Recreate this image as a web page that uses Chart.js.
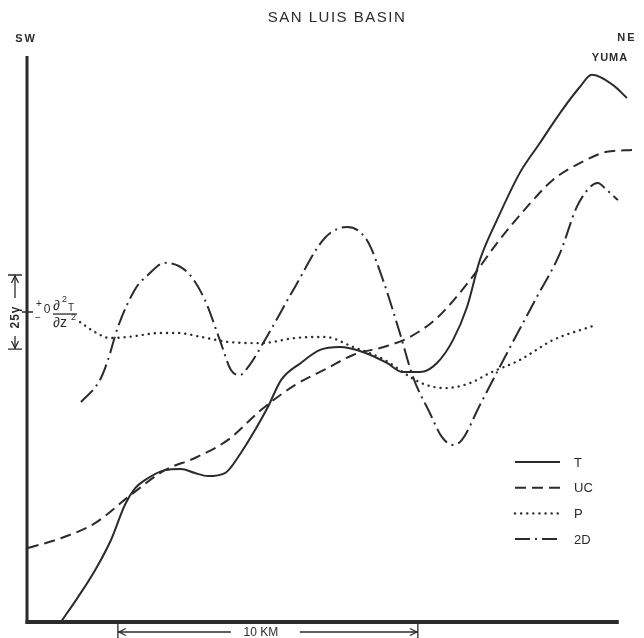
<!DOCTYPE html>
<html>
<head>
<meta charset="utf-8">
<script src="https://cdn.jsdelivr.net/npm/chart.js@4/dist/chart.umd.min.js"></script>
<style>
  html, body { margin:0; padding:0; background:#fff; }
  #c { display:block; }
</style>
</head>
<body>
<canvas id="c" width="644" height="638"></canvas>
<script>
// distance along profile (km from SW end) and anomaly (gammas, 0 = reference of the 2D curve)
const tKm  = [1.13,1.70,2.27,2.80,3.27,3.60,3.93,4.60,5.13,5.60,6.03,6.60,7.13,7.60,8.03,8.47,9.13,9.77,10.43,11.20,12.00,12.53,13.10,13.67,14.20,14.67,15.10,15.67,16.43,17.10,17.77,18.43,18.83,19.53,20.00];
const tVal = [-104.7,-96.3,-87.2,-77.0,-65.0,-59.6,-56.8,-53.4,-53.0,-54.4,-55.4,-54.4,-47.6,-39.9,-32.1,-23.0,-17.2,-12.8,-11.8,-13.5,-17.2,-20.3,-20.3,-17.2,-9.5,1.7,17.6,31.1,47.0,57.1,67.2,76.0,80.1,76.7,72.3];

const ucKm  = [0.03,1.13,2.27,3.37,4.60,5.60,6.70,7.80,8.93,10.03,10.87,12.00,12.77,13.67,14.77,15.67,16.67,17.53,18.43,19.33,20.17];
const ucVal = [-79.7,-76.4,-71.3,-62.5,-53.4,-49.3,-43.2,-33.1,-24.7,-18.9,-14.5,-11.5,-8.4,-2.0,10.8,23.3,35.5,44.6,50.3,54.1,54.7];

const pKm  = [1.77,2.27,2.77,3.37,4.47,5.03,5.80,6.70,7.80,8.93,9.93,10.87,11.93,12.53,12.83,13.33,13.93,14.77,15.43,16.43,17.53,18.87];
const pVal = [-3.4,-6.8,-8.8,-8.4,-7.1,-7.1,-8.4,-10.1,-10.5,-8.8,-8.4,-11.8,-16.2,-20.3,-22.3,-24.7,-25.7,-24.0,-20.6,-16.2,-9.5,-4.7];

const ddKm  = [1.80,2.43,2.70,3.03,3.63,4.03,4.60,5.37,5.93,6.43,6.80,7.10,7.37,7.93,8.93,9.93,10.67,11.33,11.87,12.43,12.87,13.43,13.83,14.20,14.50,15.10,16.00,17.00,17.77,18.33,18.77,19.03,19.33,19.70];
const ddVal = [-30.4,-23.0,-16.2,-5.1,8.1,12.5,16.6,13.2,4.1,-9.5,-19.6,-21.3,-18.6,-9.5,8.4,25.0,28.7,24.3,10.8,-7.1,-22.0,-34.1,-42.2,-44.9,-43.2,-31.4,-13.9,5.1,19.9,35.5,42.2,43.6,41.2,37.8];

const legendLabels = ['T', 'UC', 'P', '2D'];

const X_MIN = 0, X_MAX = 20.27, AXIS_END = 19.73;
const Y_MIN = -104.7, Y_MAX = 88.5;
const INK = '#2b2b2b';
const FONT = '"Liberation Sans", "DejaVu Sans", sans-serif';

const pts = (xs, ys) => xs.map((x, i) => ({ x, y: ys[i] }));

const styles = [
  { dash: [], width: 2, cap: 'butt' },
  { dash: [11, 6], width: 2, cap: 'butt' },
  { dash: [0.1, 6], width: 2.4, cap: 'round' },
  { dash: [17, 5, 2, 5], width: 2, cap: 'butt' }
];

function arrowHead(ctx, x, y, dir) {
  // tip at x,y
  ctx.beginPath();
  if (dir === 'l') { ctx.moveTo(x + 7, y - 3.5); ctx.lineTo(x, y); ctx.lineTo(x + 7, y + 3.5); }
  if (dir === 'r') { ctx.moveTo(x - 7, y - 3.5); ctx.lineTo(x, y); ctx.lineTo(x - 7, y + 3.5); }
  if (dir === 'u') { ctx.moveTo(x - 3.5, y + 7); ctx.lineTo(x, y); ctx.lineTo(x + 3.5, y + 7); }
  if (dir === 'd') { ctx.moveTo(x - 3.5, y - 7); ctx.lineTo(x, y); ctx.lineTo(x + 3.5, y - 7); }
  ctx.stroke();
}

const decor = {
  id: 'decor',
  beforeDatasetsDraw(chart) {
    const { ctx, scales: { x, y } } = chart;
    ctx.save();
    ctx.strokeStyle = INK;
    ctx.lineCap = 'butt';
    ctx.lineWidth = 3;
    ctx.beginPath();
    ctx.moveTo(x.getPixelForValue(0), y.getPixelForValue(Y_MAX) + 6);
    ctx.lineTo(x.getPixelForValue(0), y.getPixelForValue(Y_MIN) + 2);
    ctx.stroke();
    ctx.lineWidth = 4;
    ctx.beginPath();
    ctx.moveTo(x.getPixelForValue(0) - 1.5, y.getPixelForValue(Y_MIN));
    ctx.lineTo(x.getPixelForValue(AXIS_END), y.getPixelForValue(Y_MIN));
    ctx.stroke();
    ctx.restore();
  },
  afterDraw(chart) {
    const { ctx, scales: { x, y } } = chart;
    ctx.save();
    ctx.fillStyle = INK;
    ctx.strokeStyle = INK;
    ctx.textAlign = 'center';
    ctx.textBaseline = 'middle';

    ctx.font = '15px ' + FONT;
    ctx.letterSpacing = '1.5px';
    ctx.fillText('SAN LUIS BASIN', 337, 18);
    ctx.font = 'bold 11px ' + FONT;
    ctx.letterSpacing = '2px';
    ctx.fillText('SW', 26, 39);
    ctx.fillText('NE', 627, 38);
    ctx.letterSpacing = '1px';
    ctx.fillText('YUMA', 610, 58);
    ctx.letterSpacing = '0px';

    // 10 km scale bar
    const x0 = x.getPixelForValue(3.03), x1 = x.getPixelForValue(13.03);
    const yb = y.getPixelForValue(Y_MIN);
    ctx.lineWidth = 1.3;
    ctx.beginPath();
    ctx.moveTo(x0, yb); ctx.lineTo(x0, yb + 16);
    ctx.moveTo(x1, yb); ctx.lineTo(x1, yb + 16);
    ctx.moveTo(x0, yb + 10); ctx.lineTo(x0 + 113, yb + 10);
    ctx.moveTo(x1 - 118, yb + 10); ctx.lineTo(x1, yb + 10);
    ctx.stroke();
    arrowHead(ctx, x0 + 1, yb + 10, 'l');
    arrowHead(ctx, x1 - 1, yb + 10, 'r');
    ctx.font = '12px ' + FONT;
    ctx.fillText('10 KM', (x0 + x1) / 2 - 7, yb + 11);

    // 25 gamma scale bar
    const yt = y.getPixelForValue(12.5), yz = y.getPixelForValue(0), ybt = y.getPixelForValue(-12.5);
    const sx = 15;
    ctx.beginPath();
    ctx.moveTo(sx - 7, yt); ctx.lineTo(sx + 7, yt);
    ctx.moveTo(sx - 7, ybt); ctx.lineTo(sx + 7, ybt);
    ctx.moveTo(sx, yt); ctx.lineTo(sx, yz - 14);
    ctx.moveTo(sx, yz + 24); ctx.lineTo(sx, ybt);
    ctx.moveTo(sx + 7, yz); ctx.lineTo(x.getPixelForValue(0) + 6, yz);
    ctx.stroke();
    arrowHead(ctx, sx, yt + 1, 'u');
    arrowHead(ctx, sx, ybt - 1, 'd');
    ctx.save();
    ctx.translate(sx, yz + 5);
    ctx.rotate(-Math.PI / 2);
    ctx.font = 'bold 12px ' + FONT;
    ctx.letterSpacing = '1px';
    ctx.fillText('25\u03b3', 0, 1);
    ctx.restore();

    // +0 / - and d2T/dz2 label
    ctx.font = '10px ' + FONT;
    ctx.fillText('+', 39, yz - 8);
    ctx.fillText('\u2212', 38, yz + 6);
    ctx.font = '12px ' + FONT;
    ctx.fillText('0', 47, yz - 2);
    ctx.textAlign = 'left';
    ctx.font = '14px ' + FONT;
    ctx.fillText('\u2202', 53, yz - 6);
    ctx.fillText('\u2202z', 53, yz + 11);
    ctx.font = '9px ' + FONT;
    ctx.fillText('2', 62, yz - 13);
    ctx.fillText('2', 71, yz + 5);
    ctx.font = '10px ' + FONT;
    ctx.fillText('T', 68, yz - 4);
    ctx.lineWidth = 1.3;
    ctx.beginPath();
    ctx.moveTo(53, yz + 2); ctx.lineTo(77, yz + 2);
    ctx.stroke();

    // legend
    ctx.font = '13px ' + FONT;
    ctx.textAlign = 'left';
    legendLabels.forEach((lab, i) => {
      const ly = 462 + i * 25.7;
      const s = styles[i];
      ctx.lineWidth = s.width;
      ctx.lineCap = s.cap;
      ctx.setLineDash(i === 3 ? [15, 5, 2, 5] : s.dash);
      ctx.beginPath();
      ctx.moveTo(515, ly); ctx.lineTo(560, ly);
      ctx.stroke();
      ctx.setLineDash([]);
      ctx.lineCap = 'butt';
      ctx.fillText(lab, 574, ly + 1);
    });
    ctx.restore();
  }
};

const sets = [pts(tKm, tVal), pts(ucKm, ucVal), pts(pKm, pVal), pts(ddKm, ddVal)];

new Chart(document.getElementById('c'), {
  type: 'scatter',
  data: {
    datasets: sets.map((d, i) => ({
      label: legendLabels[i],
      data: d,
      showLine: true,
      borderColor: INK,
      borderWidth: styles[i].width,
      borderDash: styles[i].dash,
      borderCapStyle: styles[i].cap,
      pointRadius: 0,
      cubicInterpolationMode: 'monotone',
      clip: false,
      fill: false
    }))
  },
  options: {
    responsive: false,
    animation: false,
    layout: { padding: { left: 27, right: 9, top: 50, bottom: 16 } },
    plugins: { legend: { display: false }, tooltip: { enabled: false } },
    scales: {
      x: { type: 'linear', display: false, min: X_MIN, max: X_MAX },
      y: { type: 'linear', display: false, min: Y_MIN, max: Y_MAX }
    }
  },
  plugins: [decor]
});
</script>
</body>
</html>
